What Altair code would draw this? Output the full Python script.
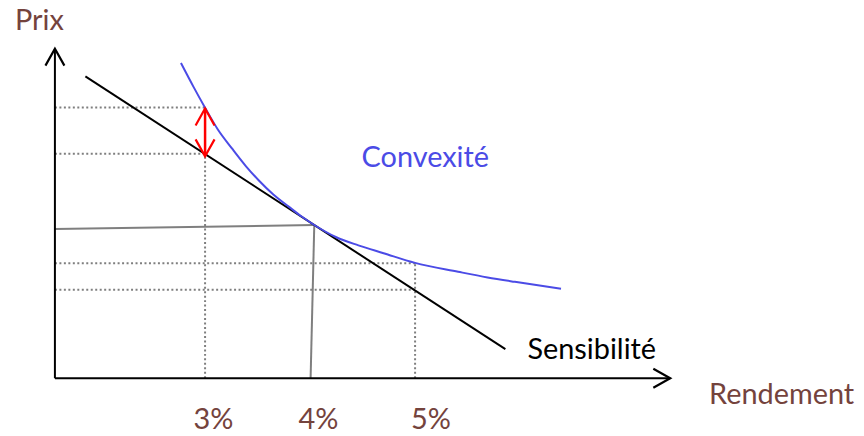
import altair as alt
import pandas as pd

# ---------------- data ----------------
# Rendement in %, Prix as an index (100 at the tangency point)
conv_r = [2.77, 2.89, 3.00, 3.12, 3.26, 3.39, 3.51, 3.65, 3.80, 3.92, 4.04,
          4.25, 4.46, 4.70, 5.00, 5.41, 5.69, 5.95, 6.39]
conv_p = [205.7, 190.1, 176.5, 162.5, 149.6, 138.3, 129.2, 119.9, 111.8, 105.5, 100.0,
          92.0, 86.7, 81.6, 75.3, 69.5, 65.8, 62.9, 58.4]

sens_r = [1.86, 5.86]
sens_p = [197.0, 19.0]

tan_r, tan_p = 4.04, 100.0
foot_r = 4.005          # foot of the grey vertical below the tangency point
left_p = 97.4           # grey horizontal where it meets the price axis

axis_r0, axis_p0 = 1.57, 0.0
axis_r1 = 7.43
axis_p1 = 215.0

ticks = [3, 4, 5]
tick_labels = ["3%", "4%", "5%"]
tick_label_r = [3.08, 4.08, 5.15]
tick_label_p = -33.4

p3_conv, p3_sens = 176.6, 146.5
p5_conv, p5_sens = 75.0, 57.8
arrow_top, arrow_bot = 176.0, 144.8

texts = ["Prix", "Rendement", "Convexité", "Sensibilité"]
text_r = [1.19, 7.80, 4.49, 6.07]
text_p = [227.0, -16.9, 137.7, 12.3]
text_col = ["#74433D", "#74433D", "#4B4BE6", "#000000"]

# ---------------- scales ----------------
W, H = 852, 428
PX_PCT, X3 = 105.5, 198.0
PX_UNIT, Y0 = 1.54, 371.0
xs = alt.Scale(domain=[3 - X3 / PX_PCT, 3 + (W - X3) / PX_PCT], nice=False, zero=False)
ys = alt.Scale(domain=[(Y0 - H) / PX_UNIT, Y0 / PX_UNIT], nice=False, zero=False)


def X(f="r"):
    return alt.X(f"{f}:Q", scale=xs, axis=None)


def Y(f="p"):
    return alt.Y(f"{f}:Q", scale=ys, axis=None)


def segs(pairs):
    rows = []
    for k, ((r1, p1), (r2, p2)) in enumerate(pairs):
        rows.append({"seg": k, "i": 0, "r": r1, "p": p1})
        rows.append({"seg": k, "i": 1, "r": r2, "p": p2})
    return pd.DataFrame(rows)


def seg_layer(df, color, width, dash=None):
    kw = dict(color=color, strokeWidth=width, strokeCap="butt")
    if dash:
        kw["strokeDash"] = dash
    return alt.Chart(df).mark_line(**kw).encode(
        x=X(), y=Y(), detail="seg:N", order="i:O")


dotted = segs([
    ((axis_r0, p3_conv), (ticks[0], p3_conv)),
    ((axis_r0, p3_sens), (ticks[0], p3_sens)),
    ((ticks[0], axis_p0), (ticks[0], p3_sens)),
    ((axis_r0, p5_conv), (ticks[2], p5_conv)),
    ((axis_r0, p5_sens), (ticks[2], p5_sens)),
    ((ticks[2], axis_p0), (ticks[2], p5_conv)),
])
grey = segs([
    ((axis_r0, left_p), (tan_r, tan_p)),
    ((tan_r, tan_p), (foot_r, axis_p0)),
])
axes = segs([
    ((axis_r0, axis_p0), (axis_r0, axis_p1)),
    ((axis_r0, axis_p0), (axis_r1, axis_p0)),
])
red = segs([((ticks[0], arrow_top), (ticks[0], arrow_bot))])
sens = pd.DataFrame({"r": sens_r, "p": sens_p})
conv = pd.DataFrame({"r": conv_r, "p": conv_p})

heads = pd.DataFrame({
    "r": [axis_r0, axis_r1, ticks[0], ticks[0]],
    "p": [axis_p1, axis_p0, arrow_top, arrow_bot],
    "ang": [0, 90, 0, 180],
    "col": ["#000000", "#000000", "#FF0000", "#FF0000"],
})
CHEVRON = "M-0.56,1L0,0L0.56,1"

labels = pd.DataFrame({"r": tick_label_r, "p": [tick_label_p] * 3, "t": tick_labels})
words = pd.DataFrame({"r": text_r, "p": text_p, "t": texts, "c": text_col})

layers = [
    seg_layer(dotted, "#7F7F7F", 2, [2, 2.5]),
    seg_layer(grey, "#7F7F7F", 2),
    alt.Chart(sens).mark_line(color="#000000", strokeWidth=2).encode(x=X(), y=Y()),
    alt.Chart(conv).mark_line(color="#4B4BE6", strokeWidth=2, interpolate="monotone").encode(x=X(), y=Y()),
    seg_layer(red, "#FF0000", 2.5),
    seg_layer(axes, "#000000", 2),
    alt.Chart(heads).mark_point(shape=CHEVRON, size=1156, filled=False, opacity=1,
                                strokeWidth=2.2).encode(
        x=X(), y=Y(), angle=alt.Angle("ang:Q", scale=None),
        stroke=alt.Stroke("col:N", scale=None)),
    alt.Chart(labels).mark_text(font="Lato", fontSize=29, color="#74433D",
                                align="center", baseline="alphabetic").encode(
        x=X(), y=Y(), text="t:N"),
    alt.Chart(words).mark_text(font="Lato", fontSize=29, align="left",
                               baseline="alphabetic").encode(
        x=X(), y=Y(), text="t:N", color=alt.Color("c:N", scale=None)),
]

chart = alt.layer(*layers).properties(
    width=W, height=H,
    autosize=alt.AutoSizeParams(type="none"),
    padding=0,
    background="white",
).configure_view(stroke=None)

chart.save("out.html", embed_options={"renderer": "svg", "actions": False})
